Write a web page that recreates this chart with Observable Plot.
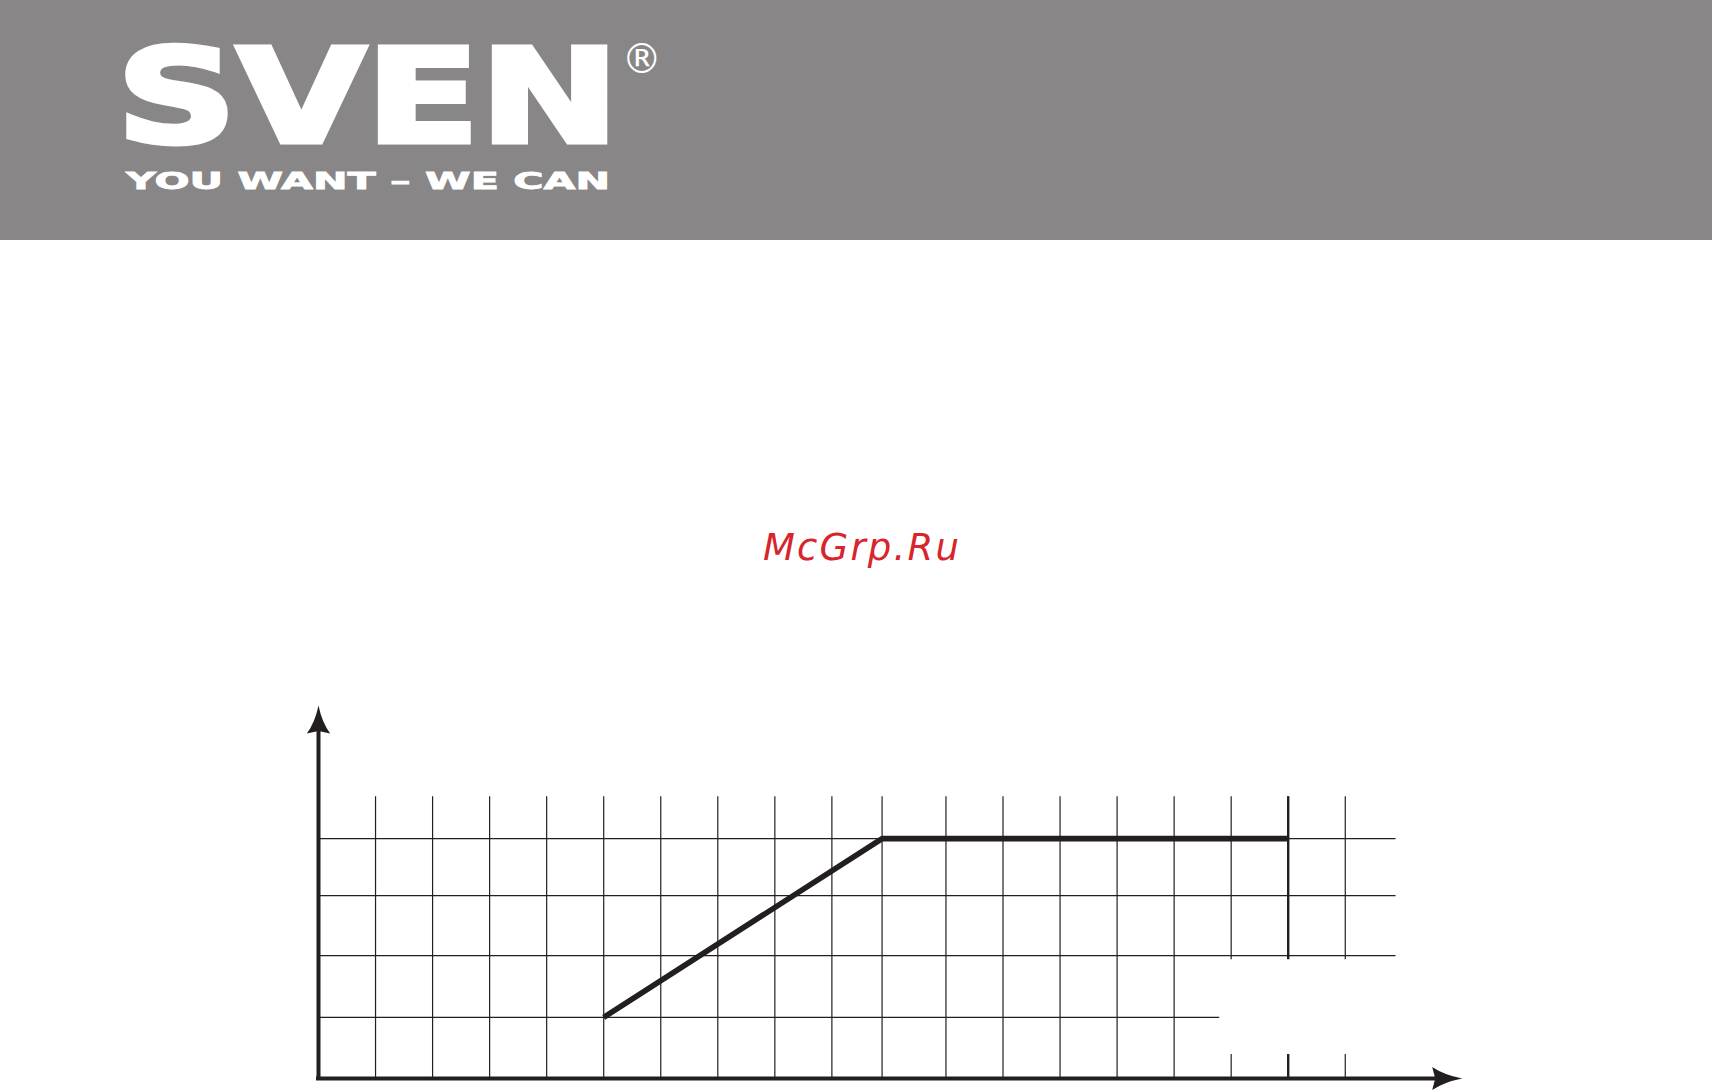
<!DOCTYPE html>
<html>
<head>
<meta charset="utf-8">
<script src="https://cdn.jsdelivr.net/npm/d3@7"></script>
<script src="https://cdn.jsdelivr.net/npm/@observablehq/plot@0.6"></script>
<style>
html, body { margin: 0; padding: 0; width: 1712px; height: 1090px; overflow: hidden; background: #ffffff; }
#page { position: absolute; left: 0; top: 0; }
#chart { position: absolute; left: 0; top: 240px; width: 1712px; height: 850px; }
</style>
</head>
<body>
<svg id="page" width="1712" height="1090">
  <rect x="0" y="0" width="1712" height="240" fill="#888687"></rect>
  <text font-family="DejaVu Sans" font-weight="bold" fill="#ffffff" stroke="#ffffff"><tspan x="116.5" y="142" font-size="130" stroke-width="5" stroke-linejoin="miter" textLength="503" lengthAdjust="spacingAndGlyphs">SVEN</tspan><tspan x="126" y="189" font-size="23" stroke-width="0.8" textLength="484" lengthAdjust="spacingAndGlyphs">YOU WANT – WE CAN</tspan></text>
  <text x="641.7" y="73" text-anchor="middle" font-family="DejaVu Sans" font-size="40" fill="#ffffff">®</text>
  <text x="862" y="560" text-anchor="middle" font-family="DejaVu Sans" font-style="oblique" font-size="37" letter-spacing="2.2" fill="#d8242b">McGrp.Ru</text>
</svg>
<div id="chart"></div>
<script>
// ---- data ----
const gridX = [1, 2, 3, 4, 5, 6, 7, 8, 9, 9.88, 11, 12, 13, 14, 15, 16, 17, 18];
const gridY = [1.02, 2.05, 3.05, 4];
const curveX = [5, 9.88, 17];
const curveY = [1.02, 4, 4];

// ---- layout constants ----
const ink = "#231f20";
const xMax = 20.05, yMax = 6.22;   // arrow tips
const gridTop = 4.7;               // top of vertical grid lines
const gapLow = 0.4, gapHigh = 1.98; // gap in the right-most columns
const hRight = 18.89, hRightLow = 15.8;

const vSegs = gridX.flatMap(x => x >= 16
  ? [{x, y1: 0, y2: gapLow}, {x, y1: gapHigh, y2: gridTop}]
  : [{x, y1: 0, y2: gridTop}]);

const curve = curveX.map((x, i) => ({x, y: curveY[i]}));

const upArrow = {
  draw(ctx) {
    ctx.moveTo(0, 0);
    ctx.quadraticCurveTo(3.5, 17, 11.7, 28);
    ctx.lineTo(0, 25.5);
    ctx.lineTo(-11.7, 28);
    ctx.quadraticCurveTo(-3.5, 17, 0, 0);
    ctx.closePath();
  }
};
const rightArrow = {
  draw(ctx) {
    ctx.moveTo(0, 0);
    ctx.quadraticCurveTo(-18, 3.5, -30, 11.5);
    ctx.lineTo(-27, 0);
    ctx.lineTo(-30, -11.5);
    ctx.quadraticCurveTo(-18, -3.5, 0, 0);
    ctx.closePath();
  }
};

const chart = Plot.plot({
  width: 1712,
  height: 850,
  marginLeft: 318,
  marginRight: 250.3,
  marginTop: 465,
  marginBottom: 12,
  style: {background: "transparent", overflow: "visible"},
  x: {domain: [0, xMax], axis: null},
  y: {domain: [0, yMax], axis: null},
  marks: [
    Plot.ruleX(vSegs, {x: "x", y1: "y1", y2: "y2", stroke: ink,
      strokeWidth: d => d.x === curveX[curveX.length - 1] ? 2.4 : 1.2}),
    Plot.ruleY(gridY, {y: d => d, x1: 0, x2: (d, i) => i === 0 ? hRightLow : hRight,
      stroke: ink, strokeWidth: 1.2}),
    Plot.ruleY([0], {x1: 0, x2: xMax - 0.4, stroke: ink, strokeWidth: 4, strokeLinecap: "square"}),
    Plot.ruleX([0], {y1: 0, y2: yMax - 0.4, stroke: ink, strokeWidth: 4, strokeLinecap: "square"}),
    Plot.dot([{x: 0, y: yMax}], {x: "x", y: "y", symbol: upArrow, fill: ink, stroke: "none"}),
    Plot.dot([{x: xMax, y: 0}], {x: "x", y: "y", symbol: rightArrow, fill: ink, stroke: "none"}),
    Plot.line(curve, {x: "x", y: "y", stroke: ink, strokeWidth: 5.6,
      strokeLinejoin: "miter", strokeLinecap: "butt"})
  ]
});
document.getElementById("chart").appendChild(chart);
</script>
</body>
</html>
